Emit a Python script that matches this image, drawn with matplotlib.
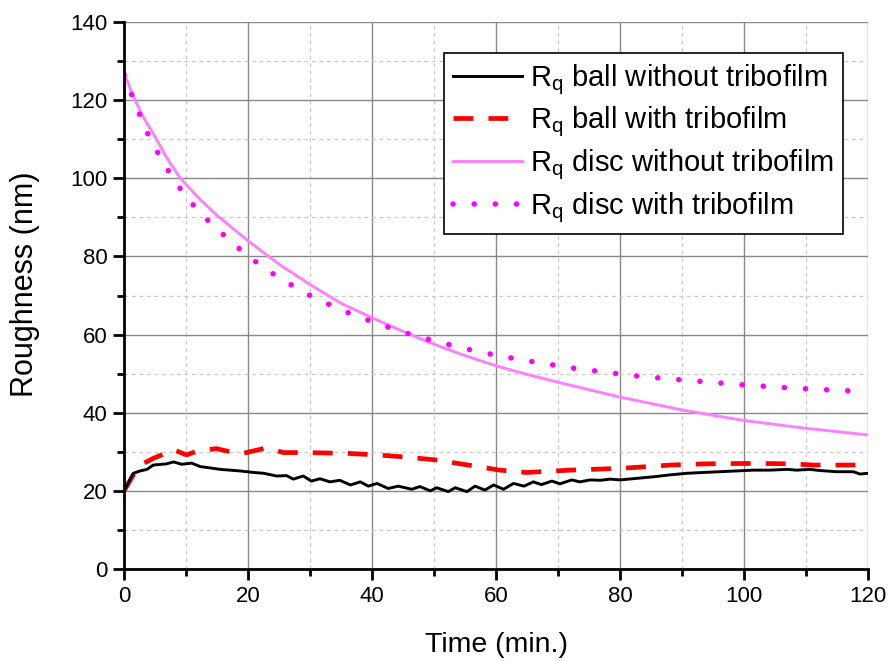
import numpy as np
import matplotlib
matplotlib.use("Agg")
import matplotlib.pyplot as plt
from matplotlib.ticker import MultipleLocator

plt.rcParams["font.family"] = ["Liberation Sans", "DejaVu Sans"]
plt.rcParams["mathtext.fontset"] = "custom"
plt.rcParams["mathtext.rm"] = "Liberation Sans"
plt.rcParams["mathtext.it"] = "Liberation Sans"

# Rq of the ball, no tribofilm (noisy trace)
t_ball = [0, 1.5, 2.6, 3.7, 4.7, 6.1, 6.8, 8.0, 9.3, 10.9, 12.3, 13.3, 15.5, 17.1, 18.7,
          20.9, 22.5, 24.6, 26.2, 27.3, 28.9, 30.2, 31.6, 33.2, 34.8, 36.5, 38.1, 39.4,
          40.8, 42.6, 44.2, 46.4, 47.7, 49.4, 50.4, 52.3, 53.4, 55.3, 56.6, 58.2, 59.6,
          61.2, 62.8, 64.5, 66.0, 67.3, 69.0, 70.3, 72.2, 73.5, 75.2, 76.8, 78.4, 80.0,
          82.7, 85.4, 88.1, 90.8, 93.4, 96.1, 98.8, 101.5, 104.2, 106.9, 108.5, 110.6,
          112.2, 114.9, 117.6, 118.7, 120]
rq_ball = [20.0, 24.5, 25.1, 25.5, 26.6, 26.8, 26.9, 27.4, 26.8, 27.1, 26.2, 26.0, 25.5,
           25.3, 25.1, 24.7, 24.5, 23.8, 23.9, 23.0, 23.8, 22.5, 23.1, 22.3, 22.7, 21.5,
           22.3, 21.2, 21.9, 20.6, 21.2, 20.4, 21.1, 20.0, 20.8, 19.8, 20.8, 19.8, 21.2,
           20.2, 21.5, 20.4, 21.9, 21.2, 22.3, 21.6, 22.5, 21.8, 22.8, 22.3, 22.8, 22.7,
           23.0, 22.8, 23.2, 23.6, 24.1, 24.5, 24.7, 24.9, 25.1, 25.3, 25.3, 25.5, 25.3,
           25.5, 25.2, 24.9, 24.9, 24.3, 24.5]

# Rq of the ball, with tribofilm
t_ball_tf = [0, 1.5, 3.1, 4.7, 8.0, 10.1, 12.0, 14.9, 17.1, 19.2, 23.0, 25.7, 28.9, 35.9,
             40.8, 45.0, 50.4, 54.7, 60.6, 64.9, 71.9, 77.3, 81.5, 88.1, 93.4, 98.8,
             103.7, 108.0, 111.2, 117.6, 120]
rq_ball_tf = [20.0, 24.1, 27.0, 28.3, 30.5, 29.2, 30.3, 30.8, 30.0, 29.6, 31.0, 29.8, 29.8,
              29.6, 29.2, 28.7, 27.9, 26.8, 25.3, 24.7, 25.3, 25.6, 25.9, 26.6, 26.9, 27.0,
              27.0, 26.9, 26.6, 26.6, 26.6]

# Rq of the disc, no tribofilm
t_disc = [0, 1, 2, 3, 5, 7, 9, 12, 15, 20, 25, 30, 35, 40, 45, 50, 55, 60, 65, 70, 80, 90,
          100, 110, 120]
rq_disc = [127, 123, 119.3, 116, 110.6, 105, 100.2, 95, 90.5, 84, 78, 72.8, 68, 64.3, 60.8,
           57.5, 54.6, 52, 49.8, 47.8, 44, 40.7, 38, 36, 34.3]

# Rq of the disc, with tribofilm
t_disc_tf = [0, 1.4, 2.6, 4.0, 5.5, 7.3, 8.9, 12, 15, 20, 25, 30, 35, 40, 45, 50, 55, 60,
             65, 72, 79, 82, 85.5, 90, 100, 110, 120]
rq_disc_tf = [126.5, 120.7, 116, 110.8, 106.4, 101.5, 97.7, 91.5, 87, 80, 74.5, 70, 66.3,
              63.3, 60.6, 58.4, 56.4, 54.7, 53.3, 51.5, 50.1, 49.5, 49.0, 48.4, 47.1, 46.1,
              45.4]

labels = [r"$\mathregular{R_q}$ ball without tribofilm",
          r"$\mathregular{R_q}$ ball with tribofilm",
          r"$\mathregular{R_q}$ disc without tribofilm",
          r"$\mathregular{R_q}$ disc with tribofilm"]

fig = plt.figure(figsize=(8.93, 6.61), dpi=100)
ax = fig.add_axes([0.1389, 0.1392, 0.8333, 0.8275])

ax.plot(t_ball, rq_ball, color="black", lw=2.1, label=labels[0], zorder=5)
ax.plot(t_ball_tf, rq_ball_tf, color="#ff0000", lw=3.4, linestyle=(0, (4.2, 3.2)),
        label=labels[1], zorder=4)
ax.plot(t_disc, rq_disc, color="#ff80ff", lw=2.1, label=labels[2], zorder=3)
ax.plot(t_disc_tf, rq_disc_tf, color="#ff00ff", lw=4.0, linestyle=(0, (0.01, 3.8)),
        dash_capstyle="round", label=labels[3], zorder=3)

ax.set_xlim(0, 120)
ax.set_ylim(0, 140)
ax.xaxis.set_major_locator(MultipleLocator(20))
ax.xaxis.set_minor_locator(MultipleLocator(10))
ax.yaxis.set_major_locator(MultipleLocator(20))
ax.yaxis.set_minor_locator(MultipleLocator(10))

ax.grid(which="major", color="#888888", lw=1.0, linestyle="-")
ax.grid(which="minor", color="#c8c8c8", lw=0.9, linestyle=(0, (3, 3)))
ax.set_axisbelow(True)

for side in ("top", "right"):
    ax.spines[side].set_visible(False)
for side in ("left", "bottom"):
    ax.spines[side].set_linewidth(2.0)
    ax.spines[side].set_zorder(6)

ax.tick_params(which="major", direction="out", length=8, width=2.0, labelsize=16, pad=4)
ax.tick_params(which="minor", direction="out", length=4.8, width=2.0)

ax.set_xlabel("Time (min.)", fontsize=20.5)
ax.set_ylabel("Roughness (nm)", fontsize=22)
ax.xaxis.set_label_coords(0.5, -0.115)
ax.yaxis.set_label_coords(-0.113, 0.521)

leg = ax.legend(loc="upper right", bbox_to_anchor=(0.966, 0.943), borderaxespad=0,
                fontsize=21, handlelength=2.35, handletextpad=0.3, labelspacing=0.28,
                borderpad=0.3, fancybox=False, framealpha=1, edgecolor="black")
leg.get_frame().set_linewidth(1.2)

fig.savefig("out.png", dpi=100)
